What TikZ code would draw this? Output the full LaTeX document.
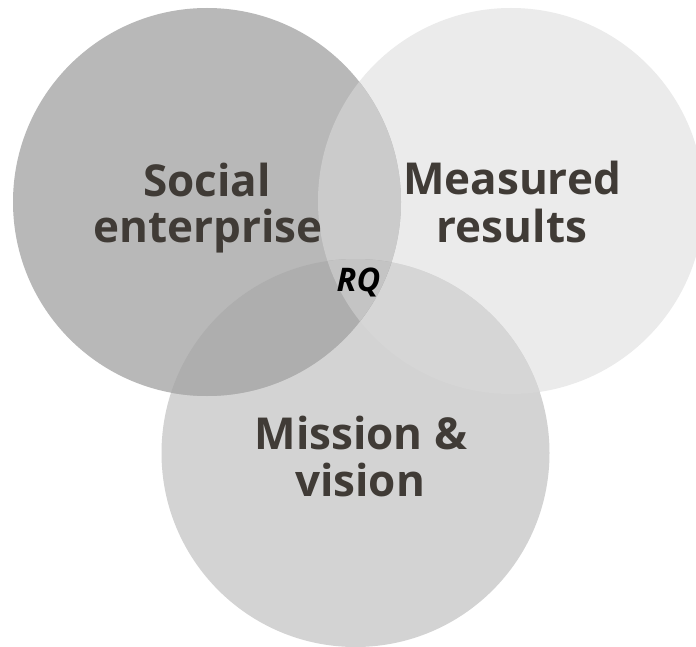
\documentclass[tikz,border=0pt]{standalone}
\usepackage{fontspec}
\setmainfont{Open Sans}
\definecolor{cL}{HTML}{B8B8B8}
\definecolor{cR}{HTML}{EBEBEB}
\definecolor{cB}{HTML}{D3D3D3}
\definecolor{cLR}{HTML}{CBCBCB}
\definecolor{cLB}{HTML}{AEAEAE}
\definecolor{cRB}{HTML}{D6D6D6}
\definecolor{cLRB}{HTML}{C4C4C4}
\definecolor{txt}{HTML}{403B36}
\tikzset{
  lbl/.style={anchor=base, inner sep=0pt, text=txt, font=\fontsize{44}{46}\selectfont\bfseries},
  rq/.style={anchor=base, inner sep=0pt, text=black, font=\fontsize{32.5}{34}\selectfont\bfseries\itshape}
}
\begin{document}
\begin{tikzpicture}[x=1pt,y=-1pt]
\useasboundingbox (0,0) rectangle (696,647);
\fill[white] (0,0) rectangle (696,647);
\coordinate (L) at (207,202);
\coordinate (R) at (511,201);
\coordinate (B) at (355.5,453);
\begin{scope}
\clip (0,0) rectangle (696,647);
\fill[cR] (R) circle[radius=193pt];
\fill[cB] (B) circle[radius=194pt];
\begin{scope}\clip (B) circle[radius=194pt]; \fill[cRB] (R) circle[radius=193pt];\end{scope}
\fill[cL] (L) circle[radius=194pt];
\begin{scope}\clip (L) circle[radius=194pt]; \fill[cLR] (R) circle[radius=193pt];\end{scope}
\begin{scope}\clip (L) circle[radius=194pt]; \fill[cLB] (B) circle[radius=194pt];\end{scope}
\begin{scope}\clip (L) circle[radius=194pt]; \clip (R) circle[radius=193pt]; \fill[cLRB] (B) circle[radius=194pt];\end{scope}
\end{scope}
\node[lbl] (s1) at (207,197) {Social};
\node[lbl] (s2) at (208,243) {enterprise};
\node[lbl] (m1) at (512,195) {Measured};
\node[lbl] (m2) at (512,242) {results};
\node[lbl] (v1) at (361,449) {Mission \&};
\node[lbl] (v2) at (360,496) {vision};
\node[rq] (rq) at (358.5,291) {RQ};
\end{tikzpicture}
\end{document}
